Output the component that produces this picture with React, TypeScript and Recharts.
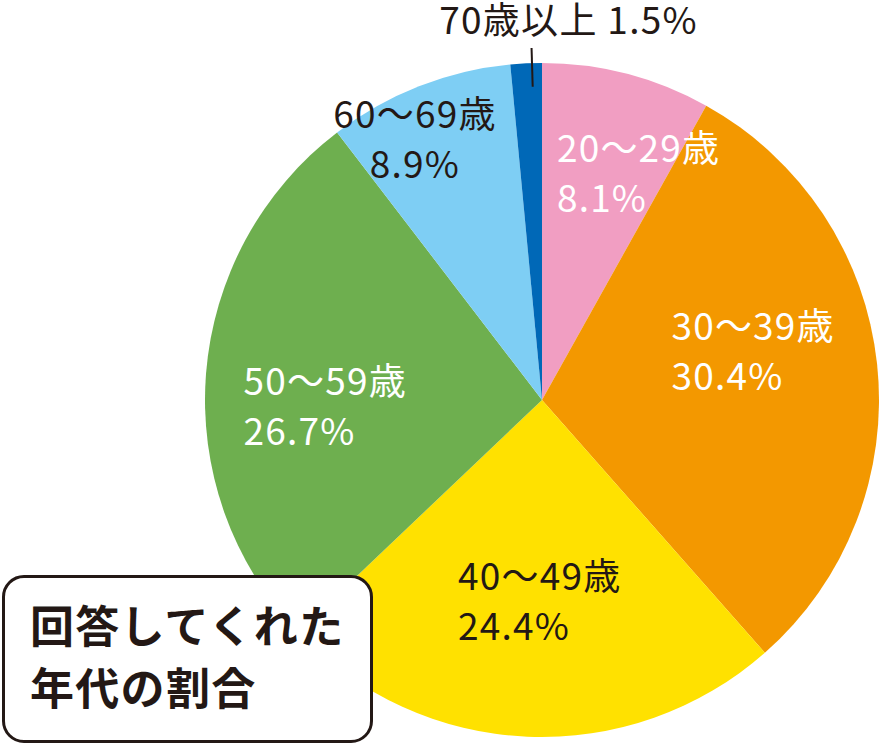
import { PieChart, Pie, Cell } from 'recharts'

const AGE_GROUPS = ['20～29歳', '30～39歳', '40～49歳', '50～59歳', '60～69歳', '70歳以上']
const SHARES = [8.1, 30.4, 24.4, 26.7, 8.9, 1.5]

const COLORS = ['#F19EC2', '#F39800', '#FFE100', '#6EAF4F', '#7ECEF4', '#0068B7']
const TEXT_COLORS = ['#fff', '#fff', '#231815', '#fff', '#231815', '#231815']
const INK = '#231815'
const FONT = '"Noto Sans CJK JP", "Noto Sans", sans-serif'

// label placement: radius fraction, angle nudge (deg), alignment
const LABEL_LAYOUT = [
  { rf: 0.694, da: 9.9, align: 'start' },
  { rf: 0.636, da: -3.3, align: 'start' },
  { rf: 0.638, da: -2, align: 'start' },
  { rf: 0.645, da: -9.8, align: 'start' },
  { rf: 0.824, da: -5.8, align: 'middle' },
  { rf: 1, da: 1, align: 'outside' },
]

const data = AGE_GROUPS.map((name, i) => ({ name, value: SHARES[i] }))

const RAD = Math.PI / 180
const LABEL_SIZE = 37
const BLOCK_HALF = 82

// eslint-disable-next-line @typescript-eslint/no-explicit-any
const renderLabel = (props: any) => {
  const { cx, cy, midAngle, outerRadius, index } = props
  const lay = LABEL_LAYOUT[index]
  const theta = (90 - midAngle + lay.da) * RAD // clockwise from 12 o'clock
  const pt = (r: number) => ({ x: cx + r * Math.sin(theta), y: cy - r * Math.cos(theta) })
  const item = data[index]

  if (lay.align === 'outside') {
    const a = pt(outerRadius * 0.93)
    const b = pt(outerRadius * 1.045)
    return (
      <g key={`lbl-${index}`}>
        <line x1={a.x} y1={a.y} x2={b.x} y2={b.y} stroke={INK} strokeWidth={2} />
        <text
          x={b.x + 37}
          y={b.y - 14}
          textAnchor="middle"
          fill={INK}
          fontSize={LABEL_SIZE}
          fontFamily={FONT}
          letterSpacing={1.3}
        >
          {`${item.name} ${item.value}%`}
        </text>
      </g>
    )
  }

  const c = pt(outerRadius * lay.rf)
  const x = lay.align === 'start' ? c.x - BLOCK_HALF : c.x
  return (
    <text
      key={`lbl-${index}`}
      x={x}
      y={c.y - 25}
      textAnchor={lay.align}
      fill={TEXT_COLORS[index]}
      fontSize={LABEL_SIZE}
      fontFamily={FONT}
      letterSpacing={1.2}
    >
      <tspan x={x} dy={0}>{item.name}</tspan>
      <tspan x={x} dy={50}>{`${item.value}%`}</tspan>
    </text>
  )
}

export default function App() {
  return (
    <div style={{ position: 'absolute', left: 0, top: 0, width: 879, height: 746, background: '#fff' }}>
      <PieChart width={879} height={746} margin={{ top: 0, right: 0, bottom: 0, left: 0 }}>
        <Pie
          data={data}
          dataKey="value"
          nameKey="name"
          cx={542}
          cy={400}
          outerRadius={337}
          startAngle={90}
          endAngle={-270}
          stroke="none"
          label={renderLabel}
          labelLine={false}
          isAnimationActive={false}
        >
          {data.map((d, i) => (
            <Cell key={d.name} fill={COLORS[i]} />
          ))}
        </Pie>
      </PieChart>

      {/* title box */}
      <div style={{
        position: 'absolute',
        left: 2,
        top: 575,
        width: 371,
        height: 168,
        boxSizing: 'border-box',
        border: `3px solid ${INK}`,
        borderRadius: 22,
        background: '#fff',
        fontFamily: FONT,
        fontWeight: 700,
        fontSize: 44,
        letterSpacing: 1.3,
        color: INK,
      }}>
        <div style={{ position: 'absolute', left: 25, top: 24, lineHeight: '44px', whiteSpace: 'nowrap' }}>
          回答してくれた
        </div>
        <div style={{ position: 'absolute', left: 25, top: 86, lineHeight: '44px', whiteSpace: 'nowrap' }}>
          年代の割合
        </div>
      </div>
    </div>
  )
}
